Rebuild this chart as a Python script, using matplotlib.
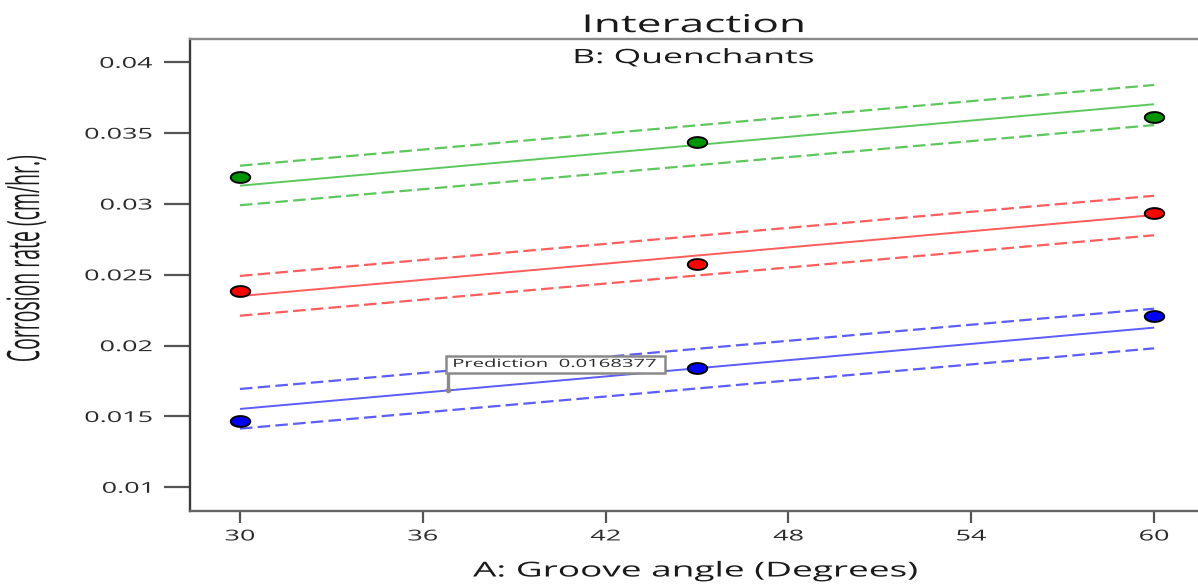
import numpy as np
import matplotlib
matplotlib.use("Agg")
import matplotlib.pyplot as plt
from matplotlib import font_manager
from matplotlib.path import Path
from matplotlib.patheffects import AbstractPathEffect
from matplotlib.transforms import Affine2D, ScaledTranslation
from matplotlib.patches import Rectangle

# ---------------- data ----------------
groove_angle = [30, 45, 60]
quenchants = ["Q1", "Q2", "Q3"]
obs_green = [0.03188, 0.03437, 0.03616]
obs_red = [0.02388, 0.02576, 0.02938]
obs_blue = [0.01470, 0.01842, 0.02209]
fit_x = [30, 60]
fit_green = [0.03129, 0.03704]
upper_green = [0.03270, 0.03840]
lower_green = [0.02991, 0.03557]
fit_red = [0.02350, 0.02922]
upper_red = [0.02492, 0.03058]
lower_red = [0.02211, 0.02779]
fit_blue = [0.01553, 0.02127]
upper_blue = [0.01694, 0.02261]
lower_blue = [0.01414, 0.01981]
pred_x = 36.83
pred_value = 0.0168377
x_ticks = [30, 36, 42, 48, 54, 60]
y_ticks = [0.01, 0.015, 0.02, 0.025, 0.03, 0.035, 0.04]
y_tick_labels = ["0.01", "0.015", "0.02", "0.025", "0.03", "0.035", "0.04"]

# ---------------- style helpers ----------------
SX = 1.8  # horizontal stretch of the original image


class Stretch(AbstractPathEffect):
    def __init__(self, sx=SX, anchor="center"):
        super().__init__()
        self.sx = sx
        self.anchor = anchor

    def draw_path(self, renderer, gc, tpath, affine, rgbFace=None):
        bb = tpath.get_extents(affine)
        if self.anchor == "right":
            x0 = bb.x1
        elif self.anchor == "left":
            x0 = bb.x0
        else:
            x0 = 0.5 * (bb.x0 + bb.x1)
        aff = affine + Affine2D().translate(-x0, 0).scale(self.sx, 1).translate(x0, 0)
        renderer.draw_path(gc, tpath, aff, rgbFace)


names = {f.name for f in font_manager.fontManager.ttflist}
FONT = "Open Sans" if "Open Sans" in names else "DejaVu Sans"
if "Liberation Sans Narrow" in names:
    YFONT, YSIZE, YSX = "Liberation Sans Narrow", 17, 1.8
else:
    YFONT, YSIZE, YSX = FONT, 14, 2.3

plt.rcParams["font.family"] = [FONT, "DejaVu Sans"]
plt.rcParams["lines.scale_dashes"] = False

W, H = 1198, 584
fig = plt.figure(figsize=(W / 100, H / 100), dpi=100)
fig.patch.set_facecolor("white")
ax_left, ax_right, ax_top, ax_bot = 190, 1198, 39, 510.7
ax = fig.add_axes([ax_left / W, 1 - ax_bot / H, (ax_right - ax_left) / W, (ax_bot - ax_top) / H])

ax.set_xlim(28.36, 61.44)
ax.set_ylim(0.008347, 0.041645)

t = np.linspace(0, 2 * np.pi, 64)
ellipse = Path(np.column_stack([SX * np.cos(t), np.sin(t)]), closed=True)

series = [
    (obs_green, fit_green, upper_green, lower_green, "#5cc85c", "#009400"),
    (obs_red, fit_red, upper_red, lower_red, "#ff5c5c", "#ff0000"),
    (obs_blue, fit_blue, upper_blue, lower_blue, "#5c5cff", "#0000ff"),
]
dash = (9.0, 3.8)
for obs, fit, up, lo, lc, mc in series:
    ax.plot(fit_x, fit, color=lc, lw=1.4, zorder=2, solid_capstyle="butt")
    ax.plot(fit_x, up, color=lc, lw=1.6, dashes=dash, zorder=2)
    ax.plot(fit_x, lo, color=lc, lw=1.6, dashes=dash, zorder=2)
    ax.plot(groove_angle, obs, linestyle="none", marker=ellipse, ms=14,
            markerfacecolor=mc, markeredgecolor="black", markeredgewidth=1.4, zorder=4)

# prediction flag
flag_tr = ScaledTranslation(pred_x, pred_value, ax.transData)
ax.plot([0, 0], [0, 17.6], color="#8a8a8a", lw=2.4, transform=flag_tr, zorder=5,
        solid_capstyle="butt", clip_on=False)
ax.plot([0], [0], marker="o", ms=3, color="#8a8a8a", transform=flag_tr, zorder=5)
ax.add_patch(Rectangle((-2, 17.6), 219, 17, transform=flag_tr, facecolor="white",
                       edgecolor="#8a8a8a", lw=1.8, zorder=5, clip_on=False))
ax.text(5, 26, "Prediction  " + f"{pred_value:.7f}", transform=flag_tr, ha="left", va="center",
        fontsize=8.1, color="#2a2a2a", zorder=6, path_effects=[Stretch(SX, "left")])

# spines & ticks
for s in ["left", "bottom", "top"]:
    ax.spines[s].set_linewidth(1.7)
ax.spines["left"].set_color("#3a3a3a")
ax.spines["bottom"].set_color("#666666")
ax.spines["top"].set_color("#888888")
ax.spines["right"].set_visible(False)

ax.set_xticks(x_ticks)
ax.set_xticklabels([str(v) for v in x_ticks])
ax.set_yticks(y_ticks)
ax.set_yticklabels(y_tick_labels)
ax.tick_params(axis="y", length=18.5, width=1.6, color="#555555", pad=8.5,
               labelsize=10.8, labelcolor="#2a2a2a")
ax.tick_params(axis="x", length=8.5, width=1.6, color="#555555", pad=5,
               labelsize=10.8, labelcolor="#2a2a2a")
for lab in ax.get_yticklabels():
    lab.set_path_effects([Stretch(SX, "right")])
for lab in ax.get_xticklabels():
    lab.set_path_effects([Stretch(SX, "center")])

ax.set_title("Interaction", fontsize=17.7, color="#1a1a1a", pad=5,
             path_effects=[Stretch(SX)])
ax.text(0.5, 0.949, "B: Quenchants", transform=ax.transAxes, ha="center", va="baseline",
        fontsize=14.2, color="#1a1a1a", path_effects=[Stretch(SX)])

ax.set_xlabel("A: Groove angle (Degrees)", fontsize=14.8, color="#1a1a1a", va="center",
              path_effects=[Stretch(SX)])
ax.xaxis.set_label_coords((695 - ax_left) / (ax_right - ax_left), (ax_bot - 571) / (ax_bot - ax_top))
ax.set_ylabel("Corrosion rate (cm/hr.)", fontsize=YSIZE, color="#1a1a1a",
              family=[YFONT, "DejaVu Sans"], path_effects=[Stretch(YSX)])
ax.yaxis.label.set(va="center", ha="center", rotation_mode="default")
ax.yaxis.set_label_coords((26.5 - ax_left) / (ax_right - ax_left), (ax_bot - 258) / (ax_bot - ax_top))

fig.savefig("out.png", dpi=100, facecolor="white")
